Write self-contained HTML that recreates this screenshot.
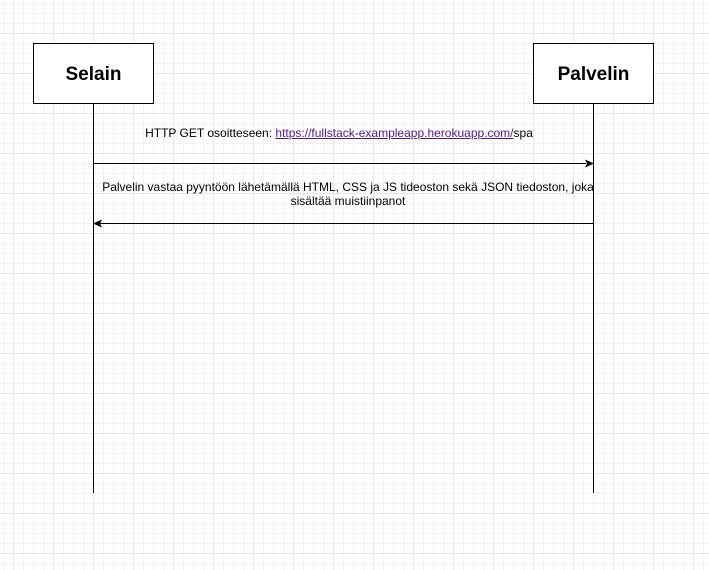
<!DOCTYPE html>
<html><head><meta charset="utf-8"><style>
html,body{margin:0;padding:0;width:709px;height:570px;overflow:hidden;background:#fff;font-family:"Liberation Sans",Arial,sans-serif;}
.grid{position:absolute;left:0;top:0;width:709px;height:570px;
background-image:
linear-gradient(to right,#e6e6e6 1px,transparent 1px),
linear-gradient(to bottom,#e6e6e6 1px,transparent 1px),
linear-gradient(to right,#f3f3f3 1px,transparent 1px),
linear-gradient(to bottom,#f3f3f3 1px,transparent 1px);
background-size:40px 40px,40px 40px,10px 10px,10px 10px;
background-position:13px 33px,13px 33px,3px 3px,3px 3px;}
.box{position:absolute;width:119px;height:59px;border:1px solid #000;background:#fff;display:flex;align-items:center;justify-content:center;font-weight:bold;font-size:19px;padding-top:2px;box-sizing:content-box;height:57px;}
.t{position:absolute;font-size:12px;color:#000;text-align:center;white-space:nowrap;}
.u{color:#551a8b;text-decoration:underline;}
</style></head><body>
<div class="grid"></div>
<svg width="709" height="570" style="position:absolute;left:0;top:0">
<line x1="93.5" y1="103" x2="93.5" y2="493" stroke="#000"/>
<line x1="593.5" y1="103" x2="593.5" y2="493" stroke="#000"/>
<line x1="93" y1="163.5" x2="586" y2="163.5" stroke="#000"/>
<polygon points="594,163.5 585,159.5 587,163.5 585,167.5" fill="#000"/>
<line x1="100" y1="223.5" x2="593" y2="223.5" stroke="#000"/>
<polygon points="93,223.5 102,219.5 100,223.5 102,227.5" fill="#000"/>
</svg>
<div class="box" style="left:33px;top:43px">Selain</div>
<div class="box" style="left:533px;top:43px">Palvelin</div>
<div class="t" style="left:93px;width:492px;top:126px">HTTP GET osoitteseen: <span class="u">https://fullstack-exampleapp.herokuapp.com/</span>spa</div>
<div class="t" style="left:98px;width:500px;top:180px;line-height:14px">Palvelin vastaa pyyntöön lähetämällä HTML, CSS ja JS tideoston sekä JSON tiedoston, joka<br>sisältää muistiinpanot</div>
</body></html>
